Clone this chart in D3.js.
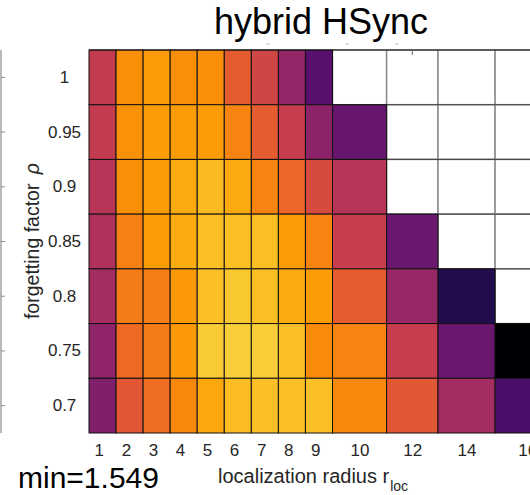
<!DOCTYPE html>
<html>
<head>
<meta charset="utf-8">
<script src="https://cdn.jsdelivr.net/npm/d3@7"></script>
<style>
  html, body { margin: 0; padding: 0; background: #fff; }
  svg { display: block; font-family: "Liberation Sans", Arial, Helvetica, sans-serif; }
</style>
</head>
<body>
<svg id="chart" width="530" height="495"></svg>
<script>
// localization radius (columns) and forgetting factor (rows, top to bottom)
const radii = [1, 2, 3, 4, 5, 6, 7, 8, 9, 10, 12, 14, 16];
const rhoLabels = ["1", "0.95", "0.9", "0.85", "0.8", "0.75", "0.7"];

// RMSE per radius for each forgetting factor; NaN = run diverged
const rmseRho100 = [2.147, 1.770, 1.721, 1.770, 1.770, 1.967, 2.082, 2.344, 2.590, NaN, NaN, NaN, NaN];
const rmseRho095 = [2.147, 1.754, 1.713, 1.721, 1.721, 1.803, 1.967, 2.131, 2.377, 2.524, NaN, NaN, NaN];
const rmseRho090 = [2.196, 1.770, 1.721, 1.672, 1.622, 1.672, 1.803, 1.918, 2.049, 2.196, NaN, NaN, NaN];
const rmseRho085 = [2.229, 1.819, 1.721, 1.663, 1.606, 1.606, 1.606, 1.721, 1.803, 2.131, 2.508, NaN, NaN];
const rmseRho080 = [2.278, 1.836, 1.827, 1.729, 1.598, 1.573, 1.606, 1.663, 1.721, 1.967, 2.328, 2.787, NaN];
const rmseRho075 = [2.360, 1.901, 1.836, 1.729, 1.565, 1.549, 1.557, 1.598, 1.778, 1.803, 2.131, 2.508, 2.992];
const rmseRho070 = [2.418, 1.991, 1.893, 1.795, 1.680, 1.614, 1.598, 1.598, 1.598, 1.786, 1.983, 2.270, 2.623];

const rmseRows = [rmseRho100, rmseRho095, rmseRho090, rmseRho085, rmseRho080, rmseRho075, rmseRho070];

// colour limits of the map
const colorMin = 1.36, colorMax = 3.0;

// ---- layout ----
const svg = d3.select("#chart");
const plotLeft = 89, plotTop = 50, plotBottom = 433;
// relative column widths (the larger radii get wider cells)
const colSpan = [1, 1, 1, 1, 1, 1, 1, 1, 1, 2, 1.9, 2.11, 2.37];
const edges = [0, ...d3.cumsum(colSpan)];
const xu = d3.scaleLinear().domain([0, 9]).range([plotLeft, 332.5]);
const y = d3.scaleBand().domain(rhoLabels).range([plotTop, plotBottom]);

// reversed inferno: low error bright, high error dark
const color = d3.scaleSequential(t => d3.interpolateInferno(1 - t)).domain([colorMin, colorMax]);

const cells = [];
rmseRows.forEach((row, ri) => {
  row.forEach((v, ci) => {
    cells.push({ rho: rhoLabels[ri], r: radii[ci], ci, v });
  });
});

const gCells = svg.append("g");

// diverged (empty) cells first
const empty = cells.filter(d => isNaN(d.v));
gCells.selectAll("rect.empty").data(empty).enter().append("rect")
  .attr("class", "empty")
  .attr("x", d => xu(edges[d.ci]))
  .attr("y", d => y(d.rho))
  .attr("width", d => xu(edges[d.ci + 1]) - xu(edges[d.ci]))
  .attr("height", y.bandwidth())
  .attr("fill", "#fff")
  .attr("stroke", "#8c8c8c")
  .attr("stroke-width", 1.5);
gCells.selectAll("line.emptyEdge").data(empty).enter().append("line")
  .attr("x1", d => xu(edges[d.ci]))
  .attr("x2", d => xu(edges[d.ci + 1]))
  .attr("y1", d => y(d.rho) + y.bandwidth())
  .attr("y2", d => y(d.rho) + y.bandwidth())
  .attr("stroke", "#444")
  .attr("stroke-width", 1);

gCells.selectAll("rect.val").data(cells.filter(d => !isNaN(d.v))).enter().append("rect")
  .attr("class", "val")
  .attr("x", d => xu(edges[d.ci]))
  .attr("y", d => y(d.rho))
  .attr("width", d => xu(edges[d.ci + 1]) - xu(edges[d.ci]))
  .attr("height", y.bandwidth())
  .attr("fill", d => color(d.v))
  .attr("stroke", "#111")
  .attr("stroke-width", 1);

// top frame line
svg.append("line")
  .attr("x1", plotLeft).attr("x2", 530)
  .attr("y1", plotTop).attr("y2", plotTop)
  .attr("stroke", "#111").attr("stroke-width", 1.2);

// tick stub on the top edge at r = 12
const c12 = radii.indexOf(12);
svg.append("line")
  .attr("x1", xu((edges[c12] + edges[c12 + 1]) / 2)).attr("x2", xu((edges[c12] + edges[c12 + 1]) / 2))
  .attr("y1", plotTop).attr("y2", plotTop + 5)
  .attr("stroke", "#666").attr("stroke-width", 1);

// ---- x axis labels at column centres ----
const xCenter = d3.scaleOrdinal()
  .domain(radii)
  .range(radii.map((r, i) => {
    const mid = xu((edges[i] + edges[i + 1]) / 2);
    return colSpan[i] === 1 ? mid - 3.7 : mid;   // narrow columns: labels nudged left
  }));
const xAxis = svg.append("g")
  .attr("transform", `translate(0,${plotBottom + 11})`)
  .call(d3.axisBottom(xCenter).tickSize(0).tickPadding(0));
xAxis.select(".domain").remove();
xAxis.selectAll("text")
  .attr("font-family", "Liberation Sans, Arial, sans-serif")
  .attr("font-size", 17)
  .attr("fill", "#262626")
  .attr("dy", "0.71em");

// ---- y axis labels, centred in their column ----
const yAxis = svg.append("g")
  .attr("transform", "translate(64.5,0)")
  .call(d3.axisLeft(y).tickSize(0).tickPadding(0));
yAxis.select(".domain").remove();
yAxis.selectAll("text")
  .attr("font-family", "Liberation Sans, Arial, sans-serif")
  .attr("font-size", 17)
  .attr("fill", "#262626")
  .attr("text-anchor", "middle");

// neighbouring frame on the far left with its row ticks
svg.append("line")
  .attr("x1", 1).attr("x2", 1).attr("y1", plotTop).attr("y2", plotBottom)
  .attr("stroke", "#8a8a8a").attr("stroke-width", 1.2);
svg.selectAll("line.lt").data(rhoLabels).enter().append("line")
  .attr("class", "lt")
  .attr("x1", 1).attr("x2", 5)
  .attr("y1", d => y(d) + y.bandwidth() / 2)
  .attr("y2", d => y(d) + y.bandwidth() / 2)
  .attr("stroke", "#8a8a8a").attr("stroke-width", 1);

// faint marks just under the title
svg.selectAll("line.mk").data([268, 347, 397]).enter().append("line")
  .attr("class", "mk")
  .attr("x1", d => d - 1.5).attr("x2", d => d + 1.5)
  .attr("y1", 44).attr("y2", 44)
  .attr("stroke", "#b5b5b5").attr("stroke-width", 1);

// ---- titles ----
svg.append("text")
  .attr("x", 321).attr("y", 34)
  .attr("text-anchor", "middle")
  .attr("font-size", 36)
  .attr("fill", "#000")
  .text("hybrid HSync");

const xl = svg.append("text")
  .attr("x", 218).attr("y", 483)
  .attr("font-size", 20)
  .attr("fill", "#262626");
xl.append("tspan").text("localization radius r");
xl.append("tspan").attr("font-size", 14).attr("dy", 8).attr("dx", 1).text("loc");

const yl = svg.append("text")
  .attr("transform", "translate(39,241) rotate(-90)")
  .attr("text-anchor", "middle")
  .attr("font-size", 19.5)
  .attr("fill", "#262626");
yl.append("tspan").text("forgetting factor ");
yl.append("tspan").attr("dx", 4).attr("font-style", "italic").text("ρ");

const minVal = d3.min(cells, d => isNaN(d.v) ? Infinity : d.v);
svg.append("text")
  .attr("x", 18).attr("y", 488)
  .attr("font-size", 30)
  .attr("fill", "#000")
  .text(`min=${minVal.toFixed(3)}`);
</script>
</body>
</html>
